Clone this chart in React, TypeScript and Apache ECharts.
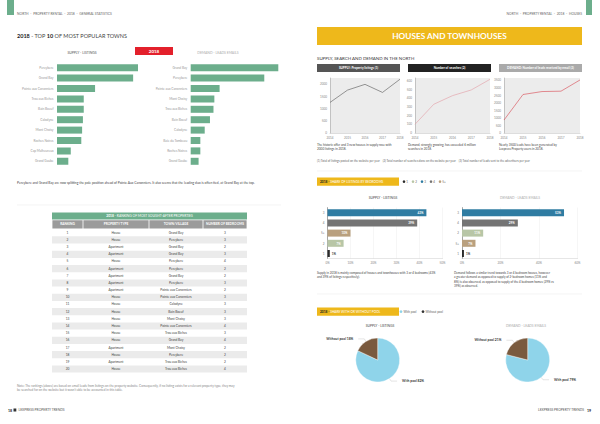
import React, { useEffect, useRef } from "react";
import * as echarts from "echarts";

const FF = "Lato, 'Open Sans', sans-serif";
const GREEN = "#6cae8c";
const YELLOW = "#eeb81b";

// Top 10 towns
const supplyTowns = ["Pereybere", "Grand Bay", "Pointe aux Canonniers", "Trou aux Biches", "Bain Boeuf", "Calodyne", "Mont Choisy", "Roches Noires", "Cap Malheureux", "Grand Gaube"];
const supplyTownValues = [100, 94, 47, 33, 33, 32, 31, 30, 17, 14];
const demandTowns = ["Grand Bay", "Pereybere", "Pointe aux Canonniers", "Mont Choisy", "Trou aux Biches", "Bain Boeuf", "Calodyne", "Baie du Tombeau", "Roches Noires", "Grand Gaube"];
const demandTownValues = [100, 84, 33, 27, 26, 22, 16, 11, 11, 9];

// Ranking table
const tableHeaders = ["RANKING", "PROPERTY TYPE", "TOWN/VILLAGE", "NUMBER OF BEDROOMS"];
const rankTypes = ["House", "House", "Apartment", "Apartment", "House", "Apartment", "Apartment", "Apartment", "Apartment", "House", "House", "House", "House", "House", "House", "House", "Apartment", "House", "Apartment", "House"];
const rankTowns = ["Grand Bay", "Pereybere", "Grand Bay", "Grand Bay", "Pereybere", "Pereybere", "Grand Bay", "Pereybere", "Pointe aux Canonniers", "Pointe aux Canonniers", "Calodyne", "Bain Boeuf", "Mont Choisy", "Pointe aux Canonniers", "Trou aux Biches", "Grand Bay", "Mont Choisy", "Pereybere", "Trou aux Biches", "Trou aux Biches"];
const rankBedrooms = [3, 3, 2, 3, 4, 2, 2, 3, 2, 3, 3, 3, 3, 4, 3, 4, 2, 2, 2, 4];

// Line charts
const years = ["2014", "2015", "2016", "2017", "2018"];
const listingsPerYear = [1250, 1755, 1990, 1660, 2200];
const searchesPerYear = [100, 329, 428, 493, 615];
const leadsPerYear = [860, 2555, 2750, 2775, 3520];

// Bedrooms
const bedroomLegend = ["1", "2", "3", "4", "5+"];
const bedroomColors: Record<string, string> = { "1": "#2a2a2a", "2": "#b8c6a6", "3": "#2f7ca2", "4": "#747474", "5+": "#b9a07e" };
const supplyBedCats = ["3", "4", "5+", "2", "1"];
const supplyBedShare = [43, 39, 10, 7, 1];
const demandBedCats = ["3", "4", "2", "5+", "1"];
const demandBedShare = [53, 29, 11, 7, 1];

// Pool
const poolNames = ["With pool", "Without pool"];
const poolColors = ["#8fd4ea", "#7a5a3e"];
const supplyPool = [82, 18];
const demandPool = [79, 21];

function txt(x: number, y: number, text: string, o: any = {}) {
  return {
    type: "text",
    x,
    y,
    silent: true,
    style: {
      text,
      fontSize: o.size || 3.5,
      fontFamily: FF,
      fontWeight: o.weight || "normal",
      fill: o.color || "#444",
      align: o.align || "left",
      textAlign: o.align || "left",
      verticalAlign: "middle",
      textVerticalAlign: "middle",
      rich: o.rich,
    },
  };
}
function rect(x: number, y: number, w: number, h: number, fill: string) {
  return { type: "rect", silent: true, shape: { x, y, width: w, height: h }, style: { fill } };
}
function hline(x1: number, x2: number, y: number, stroke = "#ececec") {
  return { type: "line", silent: true, shape: { x1, y1: y, x2, y2: y }, style: { stroke, lineWidth: 0.6 } };
}

function buildGraphics() {
  const g: any[] = [];
  // ---------- left page ----------
  g.push(rect(7, 0, 7, 15, GREEN));
  g.push(txt(17, 13.5, "NORTH  -  PROPERTY RENTAL  -  2018  -  GENERAL STATISTICS", { size: 3.3, color: "#666" }));
  g.push(txt(17, 36, "{b|2018} - TOP {b|10} OF MOST POPULAR TOWNS", { size: 5.5, color: "#444", rich: { b: { fontWeight: "bold", fontSize: 5.5, fontFamily: FF, fill: "#222", color: "#222" } } }));
  g.push(txt(82, 53, "SUPPLY - LISTINGS", { size: 3.4, color: "#555", align: "center" }));
  g.push(rect(135, 47, 38, 8, "#e3202b"));
  g.push(txt(154, 51, "2018", { size: 4.5, color: "#fff", weight: "bold", align: "center" }));
  g.push(txt(218, 53, "DEMAND - LEADS EMAILS", { size: 3.4, color: "#aaa", align: "center" }));
  g.push(txt(17, 182.5, "Pereybere and Grand Bay are now splitting the pole position ahead of Pointe Aux Canonniers. It also seems that the leading duo is often tied, at Grand Bay at the top.", { size: 3.3, color: "#444" }));
  g.push(hline(17, 281, 205));

  // table
  const cols = [52, 83, 149, 203, 247];
  g.push(rect(52, 212.5, 195, 7, GREEN));
  g.push(txt(149.5, 216, "{b|2018} - RANKING OF MOST SOUGHT-AFTER PROPERTIES", { size: 3.3, color: "#fff", align: "center", rich: { b: { fontWeight: "bold", fontSize: 3.3, fontFamily: FF, fill: "#fff", color: "#fff" } } }));
  for (let c = 0; c < 4; c++) {
    g.push(rect(cols[c] + 0.4, 220.2, cols[c + 1] - cols[c] - 0.8, 8.3, "#9b9b9b"));
    g.push(txt((cols[c] + cols[c + 1]) / 2, 224.4, tableHeaders[c], { size: 3.2, color: "#fff", weight: "bold", align: "center" }));
  }
  const rowH = 7.17;
  const top = 229.2;
  for (let i = 0; i < rankTypes.length; i++) {
    const y0 = top + i * rowH;
    if (i % 2 === 1) g.push(rect(52, y0, 195, rowH, "#ebebeb"));
    const cy = y0 + rowH / 2;
    const vals = [String(i + 1), rankTypes[i], rankTowns[i], String(rankBedrooms[i])];
    for (let c = 0; c < 4; c++) {
      g.push(txt((cols[c] + cols[c + 1]) / 2, cy, vals[c], { size: 3.2, color: "#444", align: "center" }));
    }
  }
  g.push(txt(17, 385.5, "Note: The rankings (above) are based on email leads from listings on the property website. Consequently, if no listing exists for a relevant property type, they may", { size: 3.1, color: "#888" }));
  g.push(txt(17, 390, "be searched for on the website but it wasn't able to be accounted in this table.", { size: 3.1, color: "#888" }));
  g.push(txt(8, 410, "18", { size: 3.6, color: "#222", weight: "bold" }));
  g.push(rect(13.5, 408.6, 2.8, 2.8, "#333"));
  g.push(txt(18.5, 410, "LEXPRESS PROPERTY TRENDS", { size: 3.3, color: "#555" }));

  // ---------- right page ----------
  g.push(rect(586, 0, 6, 15, GREEN));
  g.push(txt(582, 13.5, "NORTH  -  PROPERTY RENTAL  -  2018  -  HOUSES", { size: 3.3, color: "#666", align: "right" }));
  g.push(rect(317, 27, 265, 18, YELLOW));
  g.push(txt(449.5, 36.3, "HOUSES AND TOWNHOUSES", { size: 8.3, color: "#fff", weight: "bold", align: "center" }));
  g.push(txt(317, 58, "SUPPLY, SEARCH AND DEMAND IN THE NORTH", { size: 4.4, color: "#333" }));
  const boxes: [number, number, string, string][] = [
    [317, 400, "#555555", "SUPPLY: Property listings (1)"],
    [408, 491, "#222222", "Number of searches (2)"],
    [499, 582, "#aaaaaa", "DEMAND: Number of leads received by email (3)"],
  ];
  boxes.forEach(([a, b, col, label]) => {
    g.push(rect(a, 64, b - a, 8, col));
    g.push(txt((a + b) / 2, 68, label, { size: 3.1, color: "#fff", weight: "bold", align: "center" }));
  });
  const caps = [
    ["The historic offer and 3 new houses in supply rose with", "2000 listings in 2018."],
    ["Demand, strongly growing, has exceeded 6 million", "searches in 2018."],
    ["Nearly 3500 leads have been generated by", "Lexpress Property users in 2018."],
  ];
  caps.forEach((lines, k) => {
    lines.forEach((l, j) => g.push(txt(boxes[k][0], 145 + j * 4.3, l, { size: 3.1, color: "#444" })));
  });
  g.push(txt(317, 161, "(1) Total of listings posted on the website per year    (2) Total number of searches done on the website per year    (3) Total number of leads sent to the advertisers per year", { size: 2.9, color: "#666" }));
  g.push(hline(317, 582, 171));

  // bedrooms section
  g.push(rect(317, 177.5, 82, 8.2, YELLOW));
  g.push(txt(320, 181.6, "{b|2018 -} SHARE OF LISTINGS BY BEDROOMS", { size: 3.2, color: "#fff", rich: { b: { fontWeight: "bold", fontSize: 3.2, fontFamily: FF, fill: "#222", color: "#222" } } }));
  bedroomLegend.forEach((b, i) => {
    const x = 404 + i * 9;
    g.push({ type: "circle", silent: true, shape: { cx: x, cy: 181.6, r: 1.3 }, style: { fill: bedroomColors[b] } });
    g.push(txt(x + 2.2, 181.6, b, { size: 3, color: "#666" }));
  });
  g.push(txt(383, 198, "SUPPLY - LISTINGS", { size: 3.3, color: "#444", align: "center" }));
  g.push(txt(520, 198, "DEMAND - LEADS EMAILS", { size: 3.3, color: "#aaa", align: "center" }));
  const bcapL = ["Supply in 2018 is mainly composed of houses and townhouses with 3 or 4 bedrooms (43%", "and 39% of listings respectively)."];
  const bcapR = ["Demand follows a similar trend towards 3 or 4 bedroom houses, however", "a greater demand as opposed to supply of 2-bedroom homes (11% and", "8%) is also observed, as opposed to supply of the 4 bedroom homes (29% vs", "39%) as observed."];
  bcapL.forEach((l, j) => g.push(txt(317, 273 + j * 4.2, l, { size: 3, color: "#444" })));
  bcapR.forEach((l, j) => g.push(txt(454, 273 + j * 4.2, l, { size: 3, color: "#444" })));
  g.push(hline(317, 582, 294));

  // pool section
  g.push(rect(317, 307.5, 82, 8.2, YELLOW));
  g.push(txt(320, 311.6, "{b|2018 -} SHARE WITH OR WITHOUT POOL", { size: 3.2, color: "#fff", rich: { b: { fontWeight: "bold", fontSize: 3.2, fontFamily: FF, fill: "#222", color: "#222" } } }));
  poolNames.forEach((n, i) => {
    const x = 401 + i * 22;
    g.push({ type: "circle", silent: true, shape: { cx: x, cy: 311.6, r: 1.4 }, style: { fill: i === 0 ? poolColors[0] : "#333" } });
    g.push(txt(x + 2.4, 311.6, n, { size: 3, color: "#666" }));
  });
  g.push(txt(380, 325.8, "SUPPLY - LISTINGS", { size: 3.3, color: "#444", align: "center" }));
  g.push(txt(526, 325.8, "DEMAND - LEADS EMAILS", { size: 3.3, color: "#aaa", align: "center" }));
  g.push(txt(584, 410, "LEXPRESS PROPERTY TRENDS", { size: 3.3, color: "#555", align: "right" }));
  g.push(txt(587, 410, "19", { size: 3.6, color: "#222", weight: "bold" }));
  return g;
}

export default function App() {
  const ref = useRef<HTMLDivElement>(null);
  useEffect(() => {
    if (!ref.current) return;
    const chart = echarts.init(ref.current, null, { renderer: "svg" });
    const smallLabel = { fontSize: 3, color: "#888", fontFamily: FF };
    const townY = (gi: number, data: string[]) => ({
      gridIndex: gi, type: "category", data, inverse: true,
      axisLine: { show: false }, axisTick: { show: false },
      axisLabel: { fontSize: 3.2, color: "#999", fontFamily: FF, margin: 3.5 },
    });
    const lineY = (gi: number, max: number, interval: number) => ({
      gridIndex: gi, type: "value", min: 0, max, interval,
      axisLabel: { ...smallLabel, showMaxLabel: false, margin: 3, formatter: (v: number) => String(v) },
      axisLine: { show: true, lineStyle: { color: "#999", width: 0.5 } },
      axisTick: { show: false }, splitLine: { show: false },
    });
    const lineX = (gi: number) => ({
      gridIndex: gi, type: "category", data: years, boundaryGap: false,
      axisLabel: { ...smallLabel, margin: 3 },
      axisLine: { show: true, lineStyle: { color: "#bbb", width: 0.5 } },
      axisTick: { show: false },
    });
    const bedX = (gi: number, max: number, interval: number) => ({
      gridIndex: gi, type: "value", min: 0, max, interval,
      axisLabel: { ...smallLabel, formatter: "{value}%", margin: 3 },
      axisLine: { show: true, lineStyle: { color: "#ccc", width: 0.5 } },
      axisTick: { show: false },
      splitLine: { show: true, lineStyle: { color: "#ececec", width: 0.5 } },
    });
    const bedY = (gi: number, data: string[]) => ({
      gridIndex: gi, type: "category", data, inverse: true,
      axisLine: { show: true, lineStyle: { color: "#555", width: 0.5 } },
      axisTick: { show: false },
      axisLabel: { fontSize: 3, color: "#777", fontFamily: FF, margin: 3 },
    });
    const bedData = (cats: string[], vals: number[]) =>
      vals.map((v, i) => ({
        value: v,
        itemStyle: { color: bedroomColors[cats[i]] },
        label: v < 3
          ? { show: true, position: "right", color: "#333", fontSize: 3, fontWeight: "bold", formatter: "{c}%", distance: 2 }
          : { show: true, position: "insideRight", color: "#fff", fontSize: 3, fontWeight: "bold", formatter: "{c}%", distance: 3 },
      }));
    const pie = (cx: number, vals: number[]) => ({
      type: "pie", center: [cx, 360], radius: 22, startAngle: 90, clockwise: true,
      data: vals.map((v, i) => ({ name: poolNames[i], value: v, itemStyle: { color: poolColors[i] } })),
      label: { show: true, formatter: "{b} {c}%", fontSize: 3.3, fontWeight: "bold", color: "#333", fontFamily: FF },
      labelLine: { show: true, length: 3, length2: 6, lineStyle: { color: "#bbb", width: 0.4 } },
      itemStyle: { borderColor: "#fff", borderWidth: 0.4 },
    });
    chart.setOption({
      animation: false,
      backgroundColor: "#fff",
      textStyle: { fontFamily: FF },
      grid: [
        { left: 57, top: 62.5, width: 81, height: 104 },
        { left: 190.7, top: 62.5, width: 87.6, height: 104 },
        { left: 330, top: 78, width: 70, height: 55, show: true, backgroundColor: "#ececec", borderWidth: 0 },
        { left: 415, top: 78, width: 75, height: 55, show: true, backgroundColor: "#ececec", borderWidth: 0 },
        { left: 504, top: 78, width: 76, height: 55, show: true, backgroundColor: "#ececec", borderWidth: 0 },
        { left: 327.5, top: 207.6, width: 115, height: 51 },
        { left: 462, top: 207.6, width: 115.5, height: 51 },
      ],
      xAxis: [
        { gridIndex: 0, type: "value", min: 0, max: 100, show: false },
        { gridIndex: 1, type: "value", min: 0, max: 100, show: false },
        lineX(2), lineX(3), lineX(4),
        bedX(5, 50, 10), bedX(6, 60, 20),
      ],
      yAxis: [
        townY(0, supplyTowns), townY(1, demandTowns),
        lineY(2, 2250, 500), lineY(3, 630, 100), lineY(4, 3650, 500),
        bedY(5, supplyBedCats), bedY(6, demandBedCats),
      ],
      series: [
        { type: "bar", xAxisIndex: 0, yAxisIndex: 0, data: supplyTownValues, barWidth: 7, itemStyle: { color: GREEN } },
        { type: "bar", xAxisIndex: 1, yAxisIndex: 1, data: demandTownValues, barWidth: 7, itemStyle: { color: GREEN } },
        { type: "line", xAxisIndex: 2, yAxisIndex: 2, data: listingsPerYear, symbol: "none", lineStyle: { color: "#555", width: 0.6 } },
        { type: "line", xAxisIndex: 3, yAxisIndex: 3, data: searchesPerYear, symbol: "none", lineStyle: { color: "#e39aa3", width: 0.6 } },
        { type: "line", xAxisIndex: 4, yAxisIndex: 4, data: leadsPerYear, symbol: "none", lineStyle: { color: "#d9454f", width: 0.6 } },
        { type: "bar", xAxisIndex: 5, yAxisIndex: 5, data: bedData(supplyBedCats, supplyBedShare), barWidth: 7 },
        { type: "bar", xAxisIndex: 6, yAxisIndex: 6, data: bedData(demandBedCats, demandBedShare), barWidth: 7 },
        pie(377.7, supplyPool),
        pie(527.7, demandPool),
      ],
      graphic: { elements: buildGraphics() },
    });
    return () => chart.dispose();
  }, []);
  return <div ref={ref} style={{ position: "fixed", left: 0, top: 0, width: 600, height: 424, background: "#fff" }} />;
}
